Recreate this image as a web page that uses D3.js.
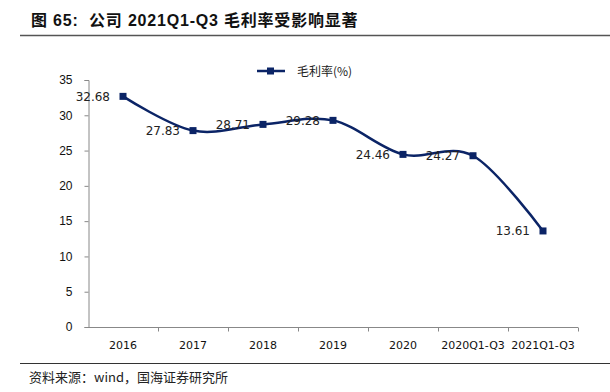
<!DOCTYPE html>
<html><head><meta charset="utf-8">
<script src="https://cdn.jsdelivr.net/npm/d3@7"></script>
<style>body{margin:0;background:#fff;}svg{display:block;}</style>
</head><body>
<svg id="c" width="610" height="392"></svg>
<script>
const categories = ["2016","2017","2018","2019","2020","2020Q1-Q3","2021Q1-Q3"];
const grossMargin = [32.68, 27.83, 28.71, 29.28, 24.46, 24.27, 13.61];
const yTicks = [0,5,10,15,20,25,30,35];
const seriesName = "毛利率(%)";
const title = "图 65:  公司 2021Q1-Q3 毛利率受影响显著";
const source = "资料来源：wind，国海证券研究所";

const svg = d3.select("#c");
const navy = "#0b2466";
const font = "'Noto Sans CJK SC', 'Liberation Sans', sans-serif";

// title & rules
svg.append("text").attr("x", 31).attr("y", 26).attr("font-family", "'Liberation Sans', 'Noto Sans CJK SC', sans-serif")
  .attr("font-weight", "bold").attr("font-size", 16).attr("fill", "#111")
  .attr("letter-spacing", 0.8)
  .attr("xml:space", "preserve").style("white-space", "pre").text(title);
svg.append("line").attr("x1", 20).attr("x2", 610).attr("y1", 35.5).attr("y2", 35.5)
  .attr("stroke", "#555").attr("stroke-width", 1.5);
svg.append("line").attr("x1", 20).attr("x2", 610).attr("y1", 363.5).attr("y2", 363.5)
  .attr("stroke", "#333").attr("stroke-width", 1);
svg.append("text").attr("x", 29).attr("y", 382).attr("font-family", font)
  .attr("font-size", 13).attr("fill", "#222").text(source);

const x = d3.scaleBand().domain(categories).range([88, 578]).padding(0);
const y = d3.scaleLinear().domain([0, 35]).range([327, 80]);

// y axis
const ya = svg.append("g").attr("transform", "translate(88.5,0)")
  .call(d3.axisLeft(y).tickValues(yTicks).tickSize(4).tickPadding(12).tickFormat(d3.format("d")));
ya.selectAll("path,line").attr("stroke", "#888");
ya.selectAll("text").attr("font-family", "'Liberation Sans', Arial, sans-serif")
  .attr("font-size", 12).attr("fill", "#111");

// x axis
const xa = svg.append("g").attr("transform", "translate(0,327.5)")
  .call(d3.axisBottom(x).tickSize(0).tickPadding(14));
xa.select("path").attr("stroke", "#888").attr("d", "M88,0H578");
xa.selectAll("text").attr("font-family", "'DejaVu Sans', sans-serif")
  .attr("font-size", 11).attr("fill", "#111");
// band boundary ticks
xa.selectAll(".bt").data(categories).enter().append("line")
  .attr("x1", d => Math.round(x(d) + x.bandwidth()) + 0.5)
  .attr("x2", d => Math.round(x(d) + x.bandwidth()) + 0.5)
  .attr("y1", 0).attr("y2", 4).attr("stroke", "#888");

// line
const cx = d => x(d) + x.bandwidth() / 2;
const line = d3.line().x((d, i) => cx(categories[i])).y(d => y(d))
  .curve(d3.curveCardinal.tension(0));
svg.append("path").datum(grossMargin).attr("d", line).attr("fill", "none")
  .attr("stroke", navy).attr("stroke-width", 2.5);
svg.selectAll(".m").data(grossMargin).enter().append("rect")
  .attr("x", (d, i) => cx(categories[i]) - 3.5).attr("y", d => y(d) - 3.5)
  .attr("width", 7).attr("height", 7).attr("fill", navy);
svg.selectAll(".lb").data(grossMargin).enter().append("text")
  .attr("x", (d, i) => cx(categories[i]) - 13).attr("y", d => y(d) + 4.5)
  .attr("text-anchor", "end").attr("font-family", "'DejaVu Sans', sans-serif")
  .attr("font-size", 12).attr("fill", "#222").text(d => d.toFixed(2));

// legend
const lg = svg.append("g");
lg.append("line").attr("x1", 257).attr("x2", 285).attr("y1", 71).attr("y2", 71)
  .attr("stroke", navy).attr("stroke-width", 2.5);
lg.append("rect").attr("x", 267).attr("y", 67.5).attr("width", 7).attr("height", 7).attr("fill", navy);
lg.append("text").attr("x", 297).attr("y", 75.5).attr("font-family", font)
  .attr("font-size", 12).attr("fill", "#222").text(seriesName);
</script>
</body></html>
